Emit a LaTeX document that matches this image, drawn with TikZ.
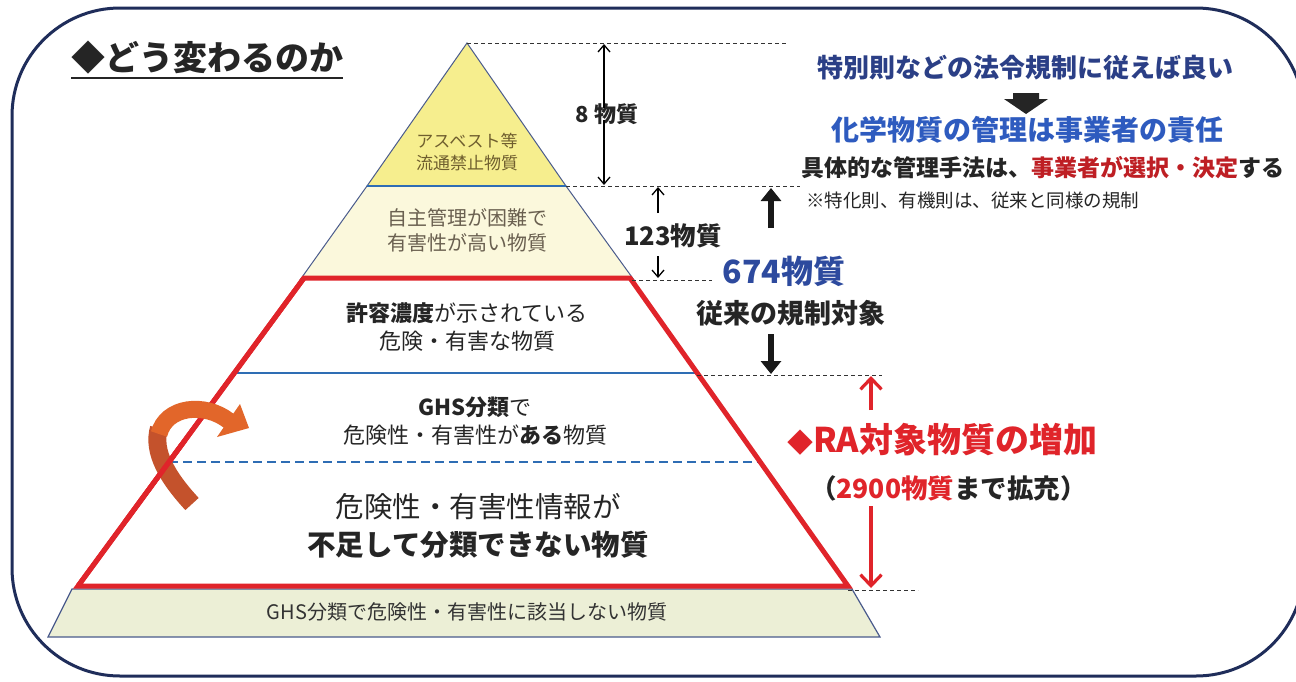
\documentclass[tikz,border=0pt]{standalone}
\usepackage{fontspec}
\setmainfont{Noto Sans CJK JP}
\usetikzlibrary{arrows.meta}
\definecolor{framec}{HTML}{1F2D5A}
\definecolor{edgeb}{HTML}{4A5B8C}
\definecolor{yel}{HTML}{F6EE8E}
\definecolor{cream}{HTML}{FBF8DC}
\definecolor{bandg}{HTML}{ECEFD6}
\definecolor{redc}{HTML}{E0242A}
\definecolor{bluel}{HTML}{2E6DB4}
\definecolor{navyt}{HTML}{2B3F86}
\definecolor{bluet}{HTML}{2E5BBF}
\definecolor{blue674}{HTML}{2D4A9E}
\definecolor{olive}{HTML}{6F5E2E}
\definecolor{graybr}{HTML}{6A6050}
\definecolor{darkt}{HTML}{252525}
\definecolor{orangeA}{HTML}{E2662A}
\definecolor{orangeB}{HTML}{C4522C}
\tikzset{
  fs/.style={font=\fontsize{#1}{1.3\dimexpr #1pt\relax}\selectfont},
  lbl/.style={inner sep=0pt, align=center, text=darkt},
  dashln/.style={black!80, line width=1pt, dash pattern=on 4pt off 3pt},
  thinarr/.style={black, line width=1.3pt, -{Straight Barb[length=7pt,width=12pt,line width=1.3pt]}},
  thickarr/.style={black!90, line width=5.5pt, -{Triangle[length=13pt,width=20pt]}},
  redarr/.style={redc, line width=3.5pt, -{Straight Barb[length=11pt,width=21pt,line width=3.2pt]}},
}
\begin{document}
\begin{tikzpicture}[x=1pt,y=-1pt]
\useasboundingbox (0,0) rectangle (1296,681);
\clip (0,0) rectangle (1296,681);
\fill[white] (0,0) rectangle (1296,681);
% frame
\draw[framec, line width=3pt, rounded corners=108pt] (12,8) rectangle (1304,676);

% title
\node[lbl, anchor=base west, fs=34, text=darkt] (title) at (71,70) {\bfseries ◆どう変わるのか};
\draw[darkt, line width=2pt] ([yshift=-8pt]title.base west) -- ([yshift=-8pt]title.base east);

% bottom band
\filldraw[fill=bandg, draw=edgeb, line width=1.2pt] (72,589) -- (852,589) -- (880,637) -- (48,637) -- cycle;
\node[lbl, fs=20, text=black!80] (nb) at (467,612) {GHS分類で危険性・有害性に該当しない物質};

% top layers
\filldraw[fill=yel, draw=edgeb, line width=1pt] (467,43) -- (566,186) -- (367,186) -- cycle;
\filldraw[fill=cream, draw=edgeb, line width=1pt] (367,186) -- (566,186) -- (634,280) -- (300,280) -- cycle;
\draw[bluel, line width=1.8pt] (367,186) -- (566,186);
\node[lbl, fs=17, text=olive] (n1) at (467,152) {アスベスト等\\[-1pt]流通禁止物質};
\node[lbl, fs=20, text=graybr] (n2) at (467,230) {自主管理が困難で\\[-1pt]有害性が高い物質};

% red trapezoid
\fill[white] (304,278) -- (630,278) -- (848,586) -- (78,586) -- cycle;
\draw[bluel, line width=2pt] (234,373) -- (697,373);
\draw[bluel, line width=2.6pt, dash pattern=on 9pt off 5pt] (169,462) -- (760,462);
\draw[redc, line width=5pt, line join=miter] (304,278) -- (630,278) -- (848,586) -- (78,586) -- cycle;

\node[lbl, fs=22] (n3) at (467,327) {\bfseries 許容濃度\mdseries が示されている\\[0pt]危険・有害な物質};
\node[lbl, fs=22] (n4) at (475,421) {\bfseries GHS分類\mdseries で\\[0pt]危険性・有害性が\bfseries ある\mdseries 物質};
\node[lbl, fs=28.5] (n5) at (478,526) {危険性・有害性情報が\\[1pt]\bfseries 不足して分類できない物質};

% orange ribbon arrow
\draw[orangeB, line width=18pt] (192,504) .. controls (168,478) and (152,452) .. (159,428);
\draw[redc, line width=5pt] (304,278) -- (78,586);
\begin{scope}
\clip (100,300) rectangle (260,440);
\draw[orangeA, line width=17pt] (159,434) .. controls (166,406) and (205,402) .. (229,421);
\end{scope}
\fill[orangeA] (240,404) -- (249,428) -- (217,437) -- cycle;
% red line over ribbon at the lower crossing
\begin{scope}
\clip (100,442) rectangle (260,520);
\draw[redc, line width=5pt] (304,278) -- (78,586);
\end{scope}

% dashed level lines
\coordinate (apex) at (467,43);
\coordinate (d1e) at (786,43);
\coordinate (l1s) at (566,186);
\coordinate (l1e) at (800,186);
\coordinate (l2s) at (632,280);
\coordinate (l2e) at (712,280);
\coordinate (l3s) at (697,375);
\coordinate (l3e) at (882,375);
\coordinate (l4s) at (848,590);
\coordinate (l4e) at (918,590);
\draw[dashln] (apex) -- (d1e);
\draw[dashln] (l1s) -- (l1e);
\draw[dashln] (l2s) -- (l2e);
\draw[dashln] (l3s) -- (l3e);
\draw[dashln] (l4s) -- (l4e);

% 8 substances
\node[lbl, fs=22] (n8) at (607,114) {\bfseries 8 物質};
\coordinate (a8t) at (604,44);
\coordinate (a8b) at (604,185);
\draw[thinarr] ([xshift=-3pt,yshift=-5pt]n8.north) -- (a8t);
\draw[thinarr] ([xshift=-3pt,yshift=5pt]n8.south) -- (a8b);

% 123 substances
\node[lbl, fs=25.5] (n123) at (673,236) {\bfseries 123物質};
\coordinate (a123t) at (658,187);
\coordinate (a123b) at (658,278);
\draw[thinarr] (658,213) -- (a123t);
\draw[thinarr] (658,256) -- (a123b);

% 674 substances
\node[lbl, fs=32, text=blue674] (n674) at (784,271) {\bfseries 674物質};
\node[lbl, fs=27] (nconv) at (791,313) {\bfseries 従来の規制対象};
\coordinate (t674) at (771,188);
\coordinate (b674) at (771,374);
\draw[thickarr] (771,228) -- (t674);
\draw[thickarr] ([yshift=-8pt]nconv.south -| b674) -- (b674);

% RA increase
\node[lbl, fs=34, text=redc, anchor=west] (nra) at (787,440) {\bfseries {\fontsize{26}{30}\selectfont◆}RA対象物質の増加};
\node[lbl, fs=26.5, anchor=west] (n2900) at (810,488) {\bfseries （\textcolor{redc}{2900物質}まで拡充）};
\coordinate (rt) at (871,376);
\coordinate (rb) at (871,588);
\draw[redarr] (871,410) -- (rt);
\draw[redarr] (871,506) -- (rb);

% top right texts
\node[lbl, fs=26, text=navyt] (t1) at (1025,68) {\bfseries 特別則などの法令規制に従えば良い};
\fill[darkt] (1013,93) -- (1039,93) -- (1039,99) -- (1048,99) -- (1026,114) -- (1004,99) -- (1013,99) -- cycle;
\node[lbl, fs=28, text=bluet] (t2) at (1027,130) {\bfseries 化学物質の管理は事業者の責任};
\node[lbl, fs=23] (t3) at (1043,168) {\bfseries 具体的な管理手法は、\textcolor{redc!85!black}{事業者が選択・決定}する};
\node[lbl, fs=18.5, anchor=west] (t4) at (806,200) {※特化則、有機則は、従来と同様の規制};
\end{tikzpicture}
\end{document}
